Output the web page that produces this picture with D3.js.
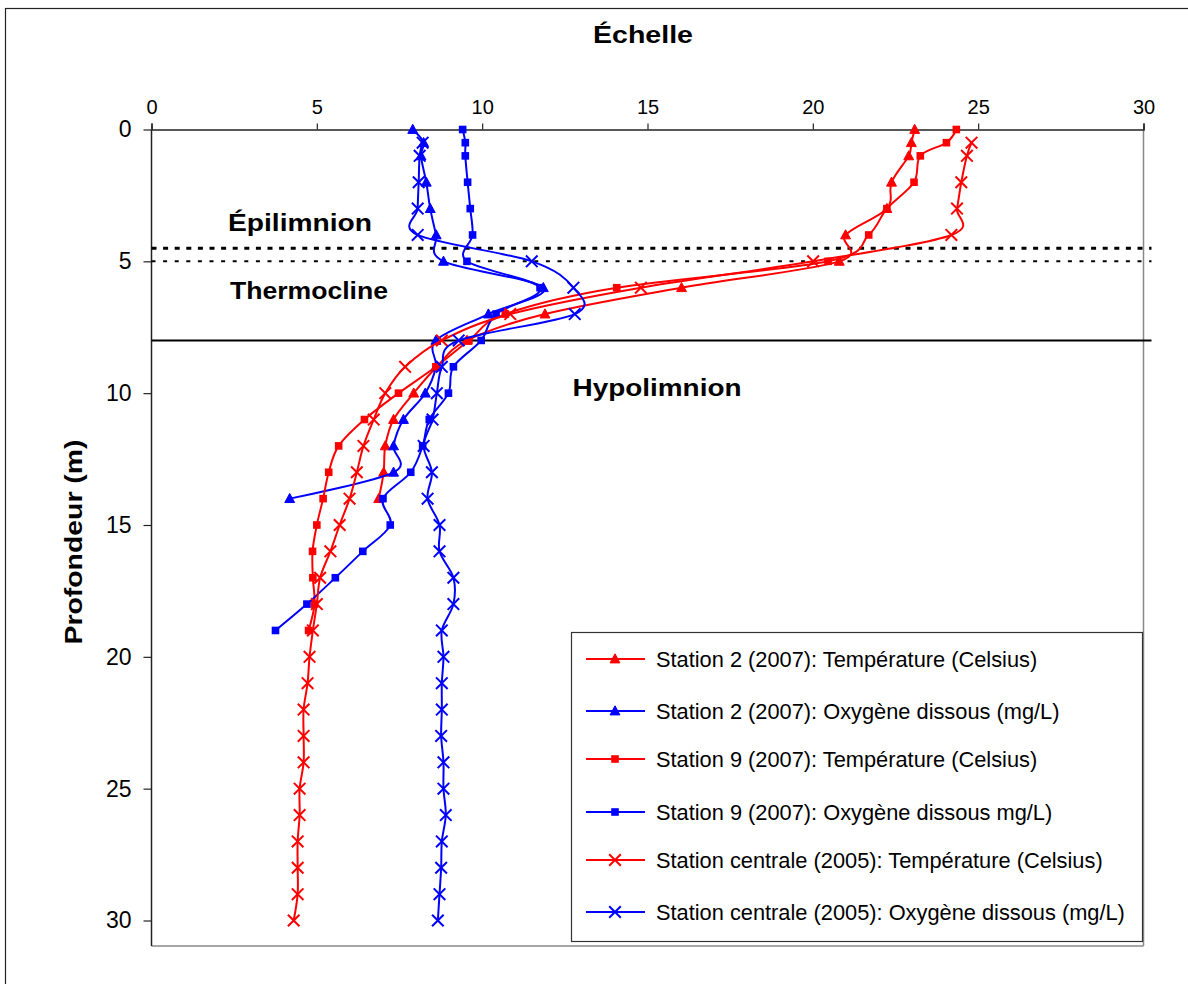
<!DOCTYPE html>
<html>
<head>
<meta charset="utf-8">
<script src="https://cdn.jsdelivr.net/npm/d3@7/dist/d3.min.js"></script>
<style>
  html, body { margin: 0; padding: 0; background: #fff; }
  svg { display: block; }
  text { font-family: "Liberation Sans", Arial, sans-serif; fill: #000; }
</style>
</head>
<body>
<svg id="chart" width="1188" height="984"></svg>
<script>
// ---------------- DATA ----------------
const xTicks = [0, 5, 10, 15, 20, 25, 30];
const yTicks = [0, 5, 10, 15, 20, 25, 30];

const depthS2 = [0, 0.5, 1, 2, 3, 4, 5, 6, 7, 8, 9, 10, 11, 12, 13, 14];
const tempS2  = [23.08, 22.98, 22.9, 22.38, 22.24, 20.99, 20.8, 16.03, 11.9, 9.54, 8.63, 7.93, 7.32, 7.07, 7.02, 6.87];
const oxyS2   = [7.9, 8.23, 8.15, 8.31, 8.43, 8.61, 8.83, 11.85, 10.19, 8.6, 8.6, 8.28, 7.62, 7.32, 7.32, 4.18];

const depthS9 = [0, 0.5, 1, 2, 3, 4, 5, 6, 7, 8, 9, 10, 11, 12, 13, 14, 15, 16, 17, 18, 19];
const tempS9  = [24.34, 24.04, 23.25, 23.06, 22.24, 21.69, 20.46, 14.07, 10.7, 9.6, 8.6, 7.47, 6.44, 5.66, 5.36, 5.19, 5.0, 4.87, 4.88, 4.93, 4.75];
const oxyS9   = [9.41, 9.49, 9.49, 9.56, 9.64, 9.71, 9.54, 11.75, 10.42, 9.97, 9.13, 8.98, 8.4, 8.2, 7.84, 7.0, 7.22, 6.39, 5.56, 4.7, 3.75];

const depthC = [0.5, 1, 2, 3, 4, 5, 6, 7, 8, 9, 10, 11, 12, 13, 14, 15, 16, 17, 18, 19, 20, 21, 22, 23, 24, 25, 26, 27, 28, 29, 30];
const tempC  = [24.8, 24.66, 24.49, 24.36, 24.19, 20.01, 14.8, 10.85, 8.78, 7.67, 7.07, 6.72, 6.41, 6.21, 5.99, 5.69, 5.41, 5.1, 5.0, 4.88, 4.78, 4.72, 4.6, 4.6, 4.6, 4.48, 4.48, 4.42, 4.42, 4.42, 4.3];
const oxyC   = [8.2, 8.11, 8.08, 8.05, 8.05, 11.5, 12.76, 12.8, 9.29, 8.78, 8.63, 8.5, 8.23, 8.48, 8.35, 8.71, 8.71, 9.13, 9.13, 8.78, 8.83, 8.78, 8.78, 8.76, 8.83, 8.83, 8.9, 8.78, 8.76, 8.71, 8.66];

const seriesNames = [
  "Station 2 (2007): Température (Celsius)",
  "Station 2 (2007): Oxygène dissous (mg/L)",
  "Station 9 (2007): Température (Celsius)",
  "Station 9 (2007): Oxygène dissous mg/L)",
  "Station centrale (2005): Température (Celsius)",
  "Station centrale (2005): Oxygène dissous (mg/L)"
];
const zoneLabels = ["Épilimnion", "Thermocline", "Hypolimnion"];
const zoneDepths = [4.5, 5, 8]; // boundary lines

// ---------------- LAYOUT ----------------
const svg = d3.select("#chart");
const x = d3.scaleLinear().domain([0, 30]).range([151.5, 1143.5]);
const y = d3.scaleLinear().domain([0, 30]).range([129.5, 920.5]);
const plotBottom = 946;

const RED = "#FF0000", BLUE = "#0000FF";
const series = [
  { name: seriesNames[0], depth: depthS2, vals: tempS2, color: RED,  marker: "tri" },
  { name: seriesNames[1], depth: depthS2, vals: oxyS2,  color: BLUE, marker: "tri" },
  { name: seriesNames[2], depth: depthS9, vals: tempS9, color: RED,  marker: "sq" },
  { name: seriesNames[3], depth: depthS9, vals: oxyS9,  color: BLUE, marker: "sq" },
  { name: seriesNames[4], depth: depthC,  vals: tempC,  color: RED,  marker: "x" },
  { name: seriesNames[5], depth: depthC,  vals: oxyC,   color: BLUE, marker: "x" }
];

// outer frame (top and left edges visible)
svg.append("rect").attr("x", 5.5).attr("y", 8.5).attr("width", 1300).attr("height", 1100)
  .attr("fill", "none").attr("stroke", "#222").attr("stroke-width", 1.2);

// plot border right & bottom (grey)
svg.append("line").attr("x1", x(30)).attr("x2", x(30)).attr("y1", y(0)).attr("y2", plotBottom)
  .attr("stroke", "#888").attr("stroke-width", 1.5);
svg.append("line").attr("x1", x(0)).attr("x2", x(30)).attr("y1", plotBottom).attr("y2", plotBottom)
  .attr("stroke", "#888").attr("stroke-width", 1.5);

// x axis (top)
const xAxis = d3.axisTop(x).tickValues(xTicks).tickSize(6).tickPadding(10).tickFormat(d3.format("d"));
const gx = svg.append("g").attr("transform", `translate(0,${y(0)})`).call(xAxis);
gx.select(".domain").attr("stroke", "#222").attr("stroke-width", 1.5);
gx.selectAll(".tick line").attr("stroke", "#222").attr("stroke-width", 1.2);
gx.selectAll(".tick text").attr("font-size", 20).attr("font-family", "Liberation Sans, Arial, sans-serif").attr("fill", "#000");

// y axis (left)
const yAxis = d3.axisLeft(y).tickValues(yTicks).tickSize(8).tickPadding(12).tickFormat(d3.format("d"));
const gy = svg.append("g").attr("transform", `translate(${x(0)},0)`).call(yAxis);
gy.select(".domain").remove();
svg.append("line").attr("x1", x(0)).attr("x2", x(0)).attr("y1", y(0)).attr("y2", plotBottom)
  .attr("stroke", "#222").attr("stroke-width", 1.5);
gy.selectAll(".tick line").attr("stroke", "#222").attr("stroke-width", 1.2);
gy.selectAll(".tick text").attr("font-size", 23).attr("font-family", "Liberation Sans, Arial, sans-serif").attr("fill", "#000");

// zone boundary lines
const lineEnd = x(30) + 8;
svg.append("line").attr("x1", x(0)).attr("x2", lineEnd).attr("y1", y(zoneDepths[0])).attr("y2", y(zoneDepths[0]))
  .attr("stroke", "#000").attr("stroke-width", 3).attr("stroke-dasharray", "5,6.6");
svg.append("line").attr("x1", x(0)).attr("x2", lineEnd).attr("y1", y(zoneDepths[1])).attr("y2", y(zoneDepths[1]))
  .attr("stroke", "#000").attr("stroke-width", 2).attr("stroke-dasharray", "4,7.6");
svg.append("line").attr("x1", x(0)).attr("x2", lineEnd).attr("y1", y(zoneDepths[2])).attr("y2", y(zoneDepths[2]))
  .attr("stroke", "#000").attr("stroke-width", 2);

// zone labels
const zoneText = [
  { t: zoneLabels[0], cx: 300, by: 231, w: 144 },
  { t: zoneLabels[1], cx: 309, by: 299, w: 158 },
  { t: zoneLabels[2], cx: 657, by: 396, w: 169 }
];
svg.selectAll("text.zone").data(zoneText).enter().append("text").attr("class", "zone")
  .attr("x", d => d.cx).attr("y", d => d.by).attr("text-anchor", "middle")
  .attr("font-size", 24).attr("font-weight", "bold")
  .attr("textLength", d => d.w).attr("lengthAdjust", "spacingAndGlyphs")
  .text(d => d.t);

// titles
svg.append("text").attr("x", 643).attr("y", 43).attr("text-anchor", "middle")
  .attr("font-size", 24).attr("font-weight", "bold")
  .attr("textLength", 100).attr("lengthAdjust", "spacingAndGlyphs").text("Échelle");
svg.append("text").attr("transform", "translate(82,542) rotate(-90)").attr("text-anchor", "middle")
  .attr("font-size", 24).attr("font-weight", "bold")
  .attr("textLength", 205).attr("lengthAdjust", "spacingAndGlyphs").text("Profondeur (m)");

// markers
function drawMarker(g, type, color, cx, cy) {
  if (type === "tri") {
    const s = 5.2;
    g.append("path").attr("d", `M${cx},${cy - s}L${cx + s * 0.95},${cy + s * 0.75}L${cx - s * 0.95},${cy + s * 0.75}Z`)
      .attr("fill", color).attr("stroke", color).attr("stroke-width", 1);
  } else if (type === "sq") {
    const s = 3.8;
    g.append("rect").attr("x", cx - s).attr("y", cy - s).attr("width", 2 * s).attr("height", 2 * s)
      .attr("fill", color);
  } else {
    const s = 5.8;
    g.append("path").attr("d", `M${cx - s},${cy - s}L${cx + s},${cy + s}M${cx - s},${cy + s}L${cx + s},${cy - s}`)
      .attr("stroke", color).attr("stroke-width", 2).attr("fill", "none");
  }
}

const line = d3.line().x(d => x(d.v)).y(d => y(d.d)).curve(d3.curveCardinal.tension(0));
series.forEach(s => {
  const pts = s.depth.map((d, i) => ({ d: d, v: s.vals[i] }));
  const g = svg.append("g");
  g.append("path").datum(pts).attr("d", line).attr("fill", "none")
    .attr("stroke", s.color).attr("stroke-width", 2);
  pts.forEach(p => drawMarker(g, s.marker, s.color, x(p.v), y(p.d)));
});

// legend
const lg = svg.append("g");
lg.append("rect").attr("x", 571.5).attr("y", 632.5).attr("width", 571).attr("height", 309)
  .attr("fill", "#fff").attr("stroke", "#333").attr("stroke-width", 1.2);
const legendY = [659, 711, 759, 812, 860, 912];
series.forEach((s, i) => {
  const cy = legendY[i];
  lg.append("line").attr("x1", 586).attr("x2", 645).attr("y1", cy).attr("y2", cy)
    .attr("stroke", s.color).attr("stroke-width", 2);
  drawMarker(lg, s.marker, s.color, 615, cy);
  lg.append("text").attr("x", 656).attr("y", cy).attr("dy", "0.35em")
    .attr("font-size", 21.8).text(s.name);
});
</script>
</body>
</html>
